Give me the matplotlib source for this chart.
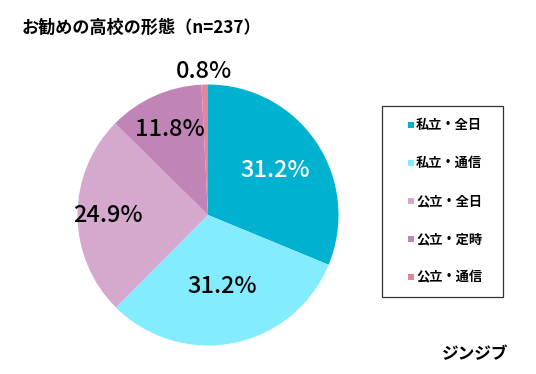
import numpy as np
import matplotlib.pyplot as plt
from matplotlib.patches import Rectangle

plt.rcParams['font.family'] = ['Noto Sans CJK JP', 'DejaVu Sans']

categories = ['私立・全日', '私立・通信', '公立・全日', '公立・定時', '公立・通信']
shares = [31.2, 31.2, 24.9, 11.8, 0.8]
labels = ['31.2%', '31.2%', '24.9%', '11.8%', '0.8%']
colors = ['#00B1D0', '#84ECFF', '#D4A9CD', '#C184B6', '#E0879D']
label_colors = ['white', 'black', 'black', 'black', 'black']
label_dist = [0.62, 0.56, 0.77, 0.72, 1.10]


def main():
    fig = plt.figure(figsize=(5.36, 3.74), dpi=100)
    W, H = 536, 374
    cx, cy, r = 208, 215, 130.5
    ax = fig.add_axes([(cx - r) / W, (H - cy - r) / H, 2 * r / W, 2 * r / H])
    wedges, _ = ax.pie(shares, colors=colors, startangle=90, counterclock=False,
                       radius=1.0, wedgeprops=dict(linewidth=0))
    ax.set_xlim(-1, 1)
    ax.set_ylim(-1, 1)
    ax.set_aspect('equal')
    ax.axis('off')

    for w, lab, c, d in zip(wedges, labels, label_colors, label_dist):
        ang = np.deg2rad((w.theta1 + w.theta2) / 2)
        ax.text(d * np.cos(ang), d * np.sin(ang), lab, ha='center', va='center',
                fontsize=17, color=c, fontweight='medium')

    fig.text(22 / W, 1 - 28 / H, 'お勧めの高校の形態（n=237）', fontsize=12.3,
             fontweight='bold', ha='left', va='center')

    # legend box
    box = Rectangle((382 / W, 1 - 297 / H), 121 / W, 191 / H, transform=fig.transFigure,
                    fill=False, edgecolor='#333333', linewidth=0.9)
    fig.patches.append(box)
    for i, (cat, col) in enumerate(zip(categories, colors)):
        y = 125 + 38 * i
        sq = Rectangle((408 / W, 1 - (y + 3) / H), 6 / W, 6 / H, transform=fig.transFigure,
                       facecolor=col, edgecolor='none')
        fig.patches.append(sq)
        fig.text(416 / W, 1 - y / H, cat, fontsize=9.5, fontweight='bold',
                 ha='left', va='center')

    fig.text(475 / W, 1 - 354 / H, 'ジンジブ', fontsize=12, fontweight='bold',
             ha='center', va='center')

    fig.savefig('out.png', dpi=100)


if __name__ == '__main__':
    main()
